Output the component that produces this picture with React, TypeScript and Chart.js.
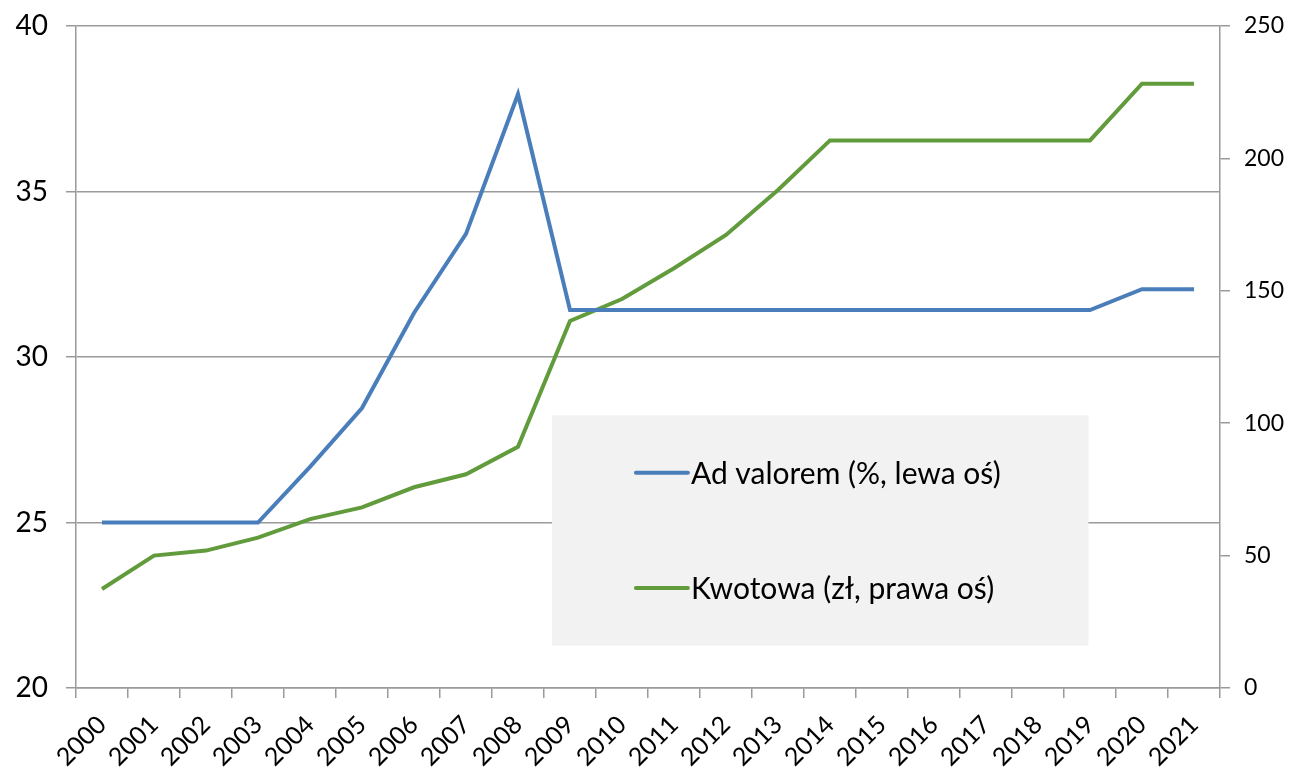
import React, { useEffect, useRef } from "react";
import { Chart, registerables } from "chart.js";

Chart.register(...registerables);

const years = ["2000","2001","2002","2003","2004","2005","2006","2007","2008","2009","2010","2011","2012","2013","2014","2015","2016","2017","2018","2019","2020","2021"];
const adValorem = [25, 25, 25, 25, 26.68, 28.46, 31.33, 33.72, 37.94, 31.42, 31.42, 31.42, 31.42, 31.42, 31.42, 31.42, 31.42, 31.42, 31.42, 31.42, 32.05, 32.05];
const kwotowa = [37.4, 50.0, 51.9, 56.8, 63.8, 68.2, 75.8, 80.7, 91.1, 138.6, 146.9, 158.5, 171.1, 188.1, 206.8, 206.8, 206.8, 206.8, 206.8, 206.8, 228.2, 228.2];
const seriesLabels = ["Ad valorem (%, lewa oś)", "Kwotowa (zł, prawa oś)"];
const seriesColors = ["#4A7EBB", "#619B3C"];

const FONT = "Lato, 'Open Sans', sans-serif";
const GRID = "#9a9a9a";

const boxLegend = {
  id: "boxLegend",
  afterDraw(chart: any) {
    const { ctx, chartArea } = chart;
    const w = chartArea.right - chartArea.left;
    const h = chartArea.bottom - chartArea.top;
    const x0 = chartArea.left + w * 0.416;
    const x1 = chartArea.left + w * 0.885;
    const y0 = chartArea.top + h * 0.588;
    const y1 = chartArea.top + h * 0.936;
    ctx.save();
    ctx.fillStyle = "#f2f2f2";
    ctx.fillRect(x0, y0, x1 - x0, y1 - y0);
    const rows = chart.data.datasets.length;
    const rowYs = [y0 + (y1 - y0) * 0.25, y0 + (y1 - y0) * 0.75];
    chart.data.datasets.forEach((ds: any, i: number) => {
      const y = rowYs[i] ?? y0 + ((i + 0.5) * (y1 - y0)) / rows;
      const lx = x0 + 84;
      ctx.strokeStyle = ds.borderColor;
      ctx.lineWidth = 4;
      ctx.lineCap = "round";
      ctx.beginPath();
      ctx.moveTo(lx, y);
      ctx.lineTo(lx + 52, y);
      ctx.stroke();
      ctx.fillStyle = "#000";
      ctx.font = `30px ${FONT}`;
      ctx.textBaseline = "middle";
      ctx.textAlign = "left";
      ctx.fillText(ds.label, lx + 55, y + 1);
    });
    ctx.restore();
  },
};

export default function App() {
  const ref = useRef<HTMLCanvasElement>(null);
  useEffect(() => {
    document.body.style.margin = "0";
    const chart = new Chart(ref.current!, {
      type: "line",
      data: {
        labels: years,
        datasets: [
          {
            label: seriesLabels[0],
            data: adValorem,
            borderColor: seriesColors[0],
            backgroundColor: seriesColors[0],
            borderWidth: 4,
            pointRadius: 0,
            tension: 0,
            yAxisID: "y",
          },
          {
            label: seriesLabels[1],
            data: kwotowa,
            borderColor: seriesColors[1],
            backgroundColor: seriesColors[1],
            borderWidth: 4,
            pointRadius: 0,
            tension: 0,
            yAxisID: "y1",
          },
        ],
      },
      options: {
        animation: false,
        responsive: false,
        layout: { padding: { top: 26, left: 0, right: 0, bottom: 0 } },
        plugins: { legend: { display: false }, tooltip: { enabled: false } },
        scales: {
          x: {
            offset: true,
            grid: { offset: true, drawOnChartArea: false, drawTicks: true, tickLength: 10, color: GRID, lineWidth: 1.5 },
            border: { display: true, color: GRID, width: 1.5 },
            ticks: { maxRotation: 45, minRotation: 45, autoSkip: false, color: "#000", font: { family: FONT, size: 25 }, padding: 12 },
            afterFit: (s: any) => { s.height = 79; s.paddingLeft = 0; s.paddingRight = 0; },
          },
          y: {
            position: "left",
            min: 20,
            max: 40,
            ticks: { stepSize: 5, color: "#000", font: { family: FONT, size: 28 }, padding: 18 },
            grid: { color: GRID, lineWidth: 1.5, tickLength: 10 },
            border: { display: true, color: GRID, width: 1.5 },
            afterFit: (s: any) => { s.width = 76; s.paddingTop = 0; s.paddingBottom = 0; },
          },
          y1: {
            position: "right",
            min: 0,
            max: 250,
            ticks: { stepSize: 50, color: "#000", font: { family: FONT, size: 23 }, padding: 14 },
            grid: { drawOnChartArea: false, color: GRID, lineWidth: 1.5, tickLength: 10 },
            border: { display: true, color: GRID, width: 1.5 },
            afterFit: (s: any) => { s.width = 74; s.paddingTop = 0; s.paddingBottom = 0; },
          },
        },
      },
      plugins: [boxLegend],
    });
    return () => chart.destroy();
  }, []);
  return <canvas ref={ref} width={1294} height={767} style={{ display: "block" }} />;
}
